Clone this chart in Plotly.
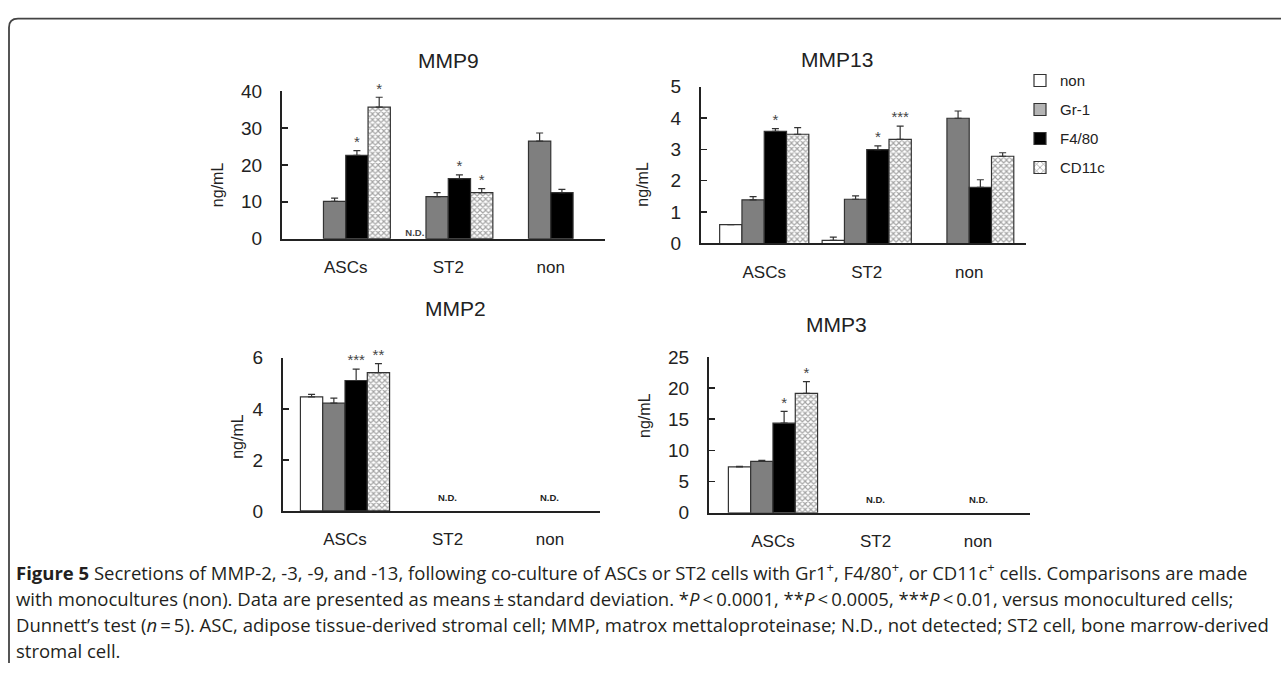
import plotly.graph_objects as go

W, H = 1281, 674

categories = ["ASCs", "ST2", "non"]
series_names = ["non", "Gr-1", "F4/80", "CD11c"]

# ---- MMP9 (ng/mL) ----
mmp9_non = [None, None, None]
mmp9_gr1 = [10.1, 11.4, 26.5]
mmp9_f480 = [22.6, 16.3, 12.5]
mmp9_cd11c = [35.7, 12.5, None]
mmp9_non_sd = [None, None, None]
mmp9_gr1_sd = [0.9, 1.1, 2.2]
mmp9_f480_sd = [1.3, 1.0, 0.9]
mmp9_cd11c_sd = [2.7, 1.1, None]
mmp9_non_mark = ["", "N.D.", ""]
mmp9_gr1_mark = ["", "", ""]
mmp9_f480_mark = ["*", "*", ""]
mmp9_cd11c_mark = ["*", "*", ""]

# ---- MMP13 (ng/mL) ----
mmp13_non = [0.60, 0.10, None]
mmp13_gr1 = [1.39, 1.41, 3.99]
mmp13_f480 = [3.57, 2.99, 1.79]
mmp13_cd11c = [3.48, 3.32, 2.78]
mmp13_non_sd = [0.0, 0.10, None]
mmp13_gr1_sd = [0.10, 0.11, 0.23]
mmp13_f480_sd = [0.09, 0.12, 0.24]
mmp13_cd11c_sd = [0.21, 0.42, 0.11]
mmp13_non_mark = ["", "", ""]
mmp13_gr1_mark = ["", "", ""]
mmp13_f480_mark = ["*", "*", ""]
mmp13_cd11c_mark = ["", "***", ""]

# ---- MMP2 (ng/mL) ----
mmp2_non = [4.47, None, None]
mmp2_gr1 = [4.22, None, None]
mmp2_f480 = [5.11, None, None]
mmp2_cd11c = [5.42, None, None]
mmp2_non_sd = [0.10, None, None]
mmp2_gr1_sd = [0.20, None, None]
mmp2_f480_sd = [0.45, None, None]
mmp2_cd11c_sd = [0.35, None, None]
mmp2_non_mark = ["", "", ""]
mmp2_gr1_mark = ["", "", ""]
mmp2_f480_mark = ["***", "", ""]
mmp2_cd11c_mark = ["**", "", ""]
mmp2_not_detected = ["ST2", "non"]

# ---- MMP3 (ng/mL) ----
mmp3_non = [7.37, None, None]
mmp3_gr1 = [8.25, None, None]
mmp3_f480 = [14.37, None, None]
mmp3_cd11c = [19.14, None, None]
mmp3_non_sd = [0.10, None, None]
mmp3_gr1_sd = [0.15, None, None]
mmp3_f480_sd = [1.9, None, None]
mmp3_cd11c_sd = [1.9, None, None]
mmp3_non_mark = ["", "", ""]
mmp3_gr1_mark = ["", "", ""]
mmp3_f480_mark = ["*", "", ""]
mmp3_cd11c_mark = ["*", "", ""]
mmp3_not_detected = ["ST2", "non"]

y_ticks_mmp9 = [0, 10, 20, 30, 40]
y_ticks_mmp13 = [0, 1, 2, 3, 4, 5]
y_ticks_mmp2 = [0, 2, 4, 6]
y_ticks_mmp3 = [0, 5, 10, 15, 20, 25]

caption_lines = [
    "<b>Figure 5</b> Secretions of MMP-2, -3, -9, and -13, following co-culture of ASCs or ST2 cells with Gr1<sup>+</sup>, F4/80<sup>+</sup>, or CD11c<sup>+</sup> cells. Comparisons are made",
    "with monocultures (non). Data are presented as means\u2009±\u2009standard deviation. *<i>P</i>\u2009&lt;\u20090.0001, **<i>P</i>\u2009&lt;\u20090.0005, ***<i>P</i>\u2009&lt;\u20090.01, versus monocultured cells;",
    "Dunnett’s test (<i>n</i>\u2009=\u20095). ASC, adipose tissue-derived stromal cell; MMP, matrox mettaloproteinase; N.D., not detected; ST2 cell, bone marrow-derived",
    "stromal cell.",
]

# ---------------- styling / layout ----------------
def px(x):
    return x / W

def py(y):
    return 1 - y / H

FONT = "Liberation Sans, Arial, sans-serif"
AX = "#222222"

styles = {
    "non": dict(color="white"),
    "Gr-1": dict(color="#7f7f7f"),
    "F4/80": dict(color="black"),
    "CD11c": dict(color="white",
                  pattern=dict(shape="x", fgcolor="#4a4a4a", bgcolor="white",
                               size=4, solidity=0.5)),
}
legend_styles = {
    "non": dict(color="white"),
    "Gr-1": dict(color="#b4b4b4"),
    "F4/80": dict(color="black"),
    "CD11c": dict(color="white",
                  pattern=dict(shape="x", fgcolor="#333333", bgcolor="white",
                               size=6, solidity=0.3)),
}

panels = [
    dict(title="MMP9", xa="x", ya="y", xdom=(282, 605), ydom=(84, 236),
         xr=(-0.622, 2.529), yr=(0, 40), ticks=y_ticks_mmp9,
         tpos=(448, 38), lpos=(207, 155), nd=[],
         means=[mmp9_non, mmp9_gr1, mmp9_f480, mmp9_cd11c],
         sds=[mmp9_non_sd, mmp9_gr1_sd, mmp9_f480_sd, mmp9_cd11c_sd],
         marks=[mmp9_non_mark, mmp9_gr1_mark, mmp9_f480_mark, mmp9_cd11c_mark]),
    dict(title="MMP13", xa="x2", ya="y2", xdom=(701, 1026), ydom=(79, 241),
         xr=(-0.617, 2.554), yr=(0, 5), ticks=y_ticks_mmp13,
         tpos=(875, 37), lpos=(643, 155), nd=[],
         means=[mmp13_non, mmp13_gr1, mmp13_f480, mmp13_cd11c],
         sds=[mmp13_non_sd, mmp13_gr1_sd, mmp13_f480_sd, mmp13_cd11c_sd],
         marks=[mmp13_non_mark, mmp13_gr1_mark, mmp13_f480_mark, mmp13_cd11c_mark]),
    dict(title="MMP2", xa="x3", ya="y3", xdom=(283, 600), ydom=(359, 517),
         xr=(-0.605, 2.488), yr=(0, 6), ticks=y_ticks_mmp2,
         tpos=(455, 308), lpos=(227, 440), nd=mmp2_not_detected,
         means=[mmp2_non, mmp2_gr1, mmp2_f480, mmp2_cd11c],
         sds=[mmp2_non_sd, mmp2_gr1_sd, mmp2_f480_sd, mmp2_cd11c_sd],
         marks=[mmp2_non_mark, mmp2_gr1_mark, mmp2_f480_mark, mmp2_cd11c_mark]),
    dict(title="MMP3", xa="x4", ya="y4", xdom=(709, 1030), ydom=(358, 519),
         xr=(-0.624, 2.507), yr=(0, 25), ticks=y_ticks_mmp3,
         tpos=(869, 325), lpos=(645, 419), nd=mmp3_not_detected,
         means=[mmp3_non, mmp3_gr1, mmp3_f480, mmp3_cd11c],
         sds=[mmp3_non_sd, mmp3_gr1_sd, mmp3_f480_sd, mmp3_cd11c_sd],
         marks=[mmp3_non_mark, mmp3_gr1_mark, mmp3_f480_mark, mmp3_cd11c_mark]),
]

fig = go.Figure()
annotations = []
layout_axes = {}

for pi, p in enumerate(panels):
    for si, name in enumerate(series_names):
        st = styles[name]
        marker = dict(color=st["color"], line=dict(color="#333333", width=1.2))
        if "pattern" in st:
            marker["pattern"] = st["pattern"]
        fig.add_trace(go.Bar(
            x=categories, y=p["means"][si], name=name,
            xaxis=p["xa"], yaxis=p["ya"], offsetgroup=name,
            showlegend=False, marker=marker,
            error_y=dict(type="data", array=p["sds"][si],
                         arrayminus=[0] * len(categories), symmetric=False,
                         color="#333333", thickness=1.2, width=3.5),
            hoverinfo="skip",
        ))
    # significance stars / N.D. markers as text placed through the axes
    for si, name in enumerate(series_names):
        ys, texts, sizes = [], [], []
        for m, s, mk in zip(p["means"][si], p["sds"][si], p["marks"][si]):
            if mk == "N.D.":
                ys.append(0); texts.append("<b>N.D.</b>"); sizes.append(9.5)
            elif mk:
                ys.append(m + (s or 0)); texts.append(mk); sizes.append(15)
            else:
                ys.append(None); texts.append(" "); sizes.append(15)
        fig.add_trace(go.Scatter(
            x=categories, y=ys, text=texts, mode="text",
            textposition="top center", offsetgroup=name,
            textfont=dict(family=FONT, size=sizes, color="#444444"),
            xaxis=p["xa"], yaxis=p["ya"], showlegend=False,
            hoverinfo="skip", cliponaxis=False,
        ))
    xk = "xaxis" if p["xa"] == "x" else "xaxis" + p["xa"][1:]
    yk = "yaxis" if p["ya"] == "y" else "yaxis" + p["ya"][1:]
    layout_axes[xk] = dict(
        type="category", domain=[px(p["xdom"][0]), px(p["xdom"][1])],
        range=list(p["xr"]), anchor=p["ya"], showline=True, linecolor=AX,
        linewidth=2, ticks="", showgrid=False, zeroline=False,
        tickfont=dict(family=FONT, size=17, color=AX), ticklabelstandoff=12,
        fixedrange=True,
    )
    layout_axes[yk] = dict(
        domain=[py(p["ydom"][1]), py(p["ydom"][0])], range=list(p["yr"]),
        anchor=p["xa"], showline=True, linecolor=AX, linewidth=2,
        ticks="inside", ticklen=6, tickwidth=1.5, tickcolor=AX,
        tickvals=p["ticks"], showgrid=False, zeroline=False,
        tickfont=dict(family=FONT, size=19, color=AX), ticklabelstandoff=14,
        fixedrange=True,
    )
    annotations.append(dict(text=p["title"], x=px(p["tpos"][0]), y=py(p["tpos"][1]),
                            xref="paper", yref="paper", showarrow=False,
                            font=dict(family=FONT, size=21, color=AX)))
    annotations.append(dict(text="ng/mL", x=px(p["lpos"][0]), y=py(p["lpos"][1]),
                            xref="paper", yref="paper", showarrow=False, textangle=-90,
                            font=dict(family=FONT, size=16, color=AX)))
    for cat in p["nd"]:
        annotations.append(dict(text="<b>N.D.</b>", x=cat, y=0, xref=p["xa"], yref=p["ya"],
                                yanchor="bottom", yshift=6, showarrow=False,
                                font=dict(family=FONT, size=9.5, color=AX)))

# legend entries (kept on a hidden axis pair so they do not take bar slots)
for name in series_names:
    st = legend_styles[name]
    marker = dict(color=st["color"], line=dict(color="#333333", width=1.2))
    if "pattern" in st:
        marker["pattern"] = st["pattern"]
    fig.add_trace(go.Bar(x=[None], y=[None], name=name, xaxis="x5", yaxis="y5",
                         legendgroup=name, showlegend=True, marker=marker,
                         hoverinfo="skip"))
layout_axes["xaxis5"] = dict(domain=[0.98, 0.99], visible=False, anchor="y5")
layout_axes["yaxis5"] = dict(domain=[0.98, 0.99], visible=False, anchor="x5")

caption_y = [580, 607, 634, 661]
for line, yy in zip(caption_lines, caption_y):
    annotations.append(dict(text=line, x=px(14), y=py(yy), xref="paper", yref="paper",
                            xanchor="left", yanchor="middle", showarrow=False,
                            font=dict(family="Open Sans, sans-serif", size=18.5, color="#231f20")))

# figure frame (top and left rule with rounded corner)
r = 9
frame_path = (f"M {px(9)},{py(674)} L {px(9)},{py(9 + r)} "
              f"Q {px(9)},{py(9)} {px(9 + r)},{py(9)} L {px(1281)},{py(9)}")

fig.update_layout(
    width=W, height=H, margin=dict(l=0, r=0, t=0, b=0),
    paper_bgcolor="white", plot_bgcolor="white",
    barmode="group", bargap=0.13, scattermode="group", scattergap=0.13,
    legend=dict(x=px(1020), y=py(56), xanchor="left", yanchor="top",
                font=dict(family=FONT, size=15, color=AX),
                bgcolor="rgba(0,0,0,0)", tracegroupgap=6.5, traceorder="grouped"),
    annotations=annotations,
    shapes=[dict(type="path", path=frame_path, xref="paper", yref="paper",
                 line=dict(color="#444444", width=1.8))],
    **layout_axes,
)

fig.write_html("out.html", config={"displayModeBar": False, "staticPlot": True},
               post_script="document.body.style.margin='0px';")
